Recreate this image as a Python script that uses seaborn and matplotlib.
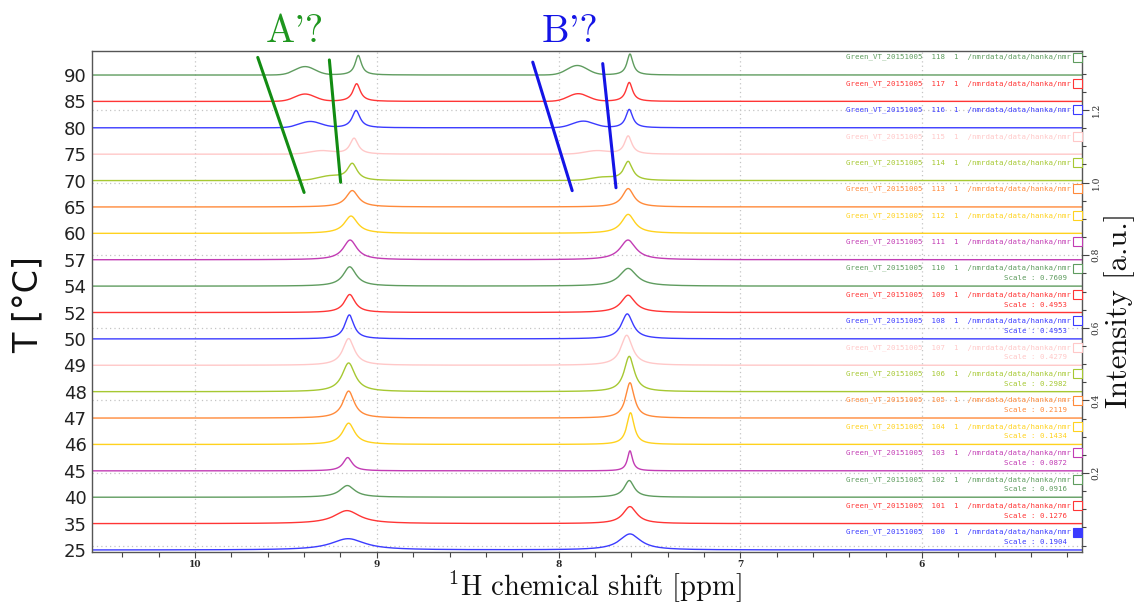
import numpy as np
import pandas as pd
import matplotlib
matplotlib.use("Agg")
import matplotlib.pyplot as plt
import matplotlib.transforms as mtransforms
from matplotlib.patches import Rectangle
from matplotlib.ticker import MultipleLocator, FixedLocator
import seaborn as sns

# ---- spectra metadata (top trace first) ----
temps = [90, 85, 80, 75, 70, 65, 60, 57, 54, 52, 50, 49, 48, 47, 46, 45, 40, 35, 25]
expnos = [118, 117, 116, 115, 114, 113, 112, 111, 110, 109, 108, 107, 106, 105,
          104, 103, 102, 101, 100]
scales = [None, None, None, None, None, None, None, None,
          "0.7609", "0.4953", "0.4953", "0.4279", "0.2982", "0.2119", "0.1434",
          "0.0872", "0.0916", "0.1276", "0.1904"]

# signal A (~9.15 ppm): position, height [a.u.], FWHM [ppm]
peak_a_ppm = [9.102, 9.111, 9.114, 9.125, 9.135, 9.135, 9.142, 9.147, 9.149, 9.149,
              9.151, 9.155, 9.155, 9.155, 9.155, 9.160, 9.162, 9.164, 9.158]
peak_a_height = [0.0540, 0.0488, 0.0479, 0.0441, 0.0460, 0.0452, 0.0477, 0.0543, 0.0532,
                 0.0496, 0.0661, 0.0736, 0.0791, 0.0744, 0.0587, 0.0366, 0.0322, 0.0358,
                 0.0311]
peak_a_fwhm = [0.042, 0.049, 0.053, 0.055, 0.066, 0.082, 0.088, 0.091, 0.086, 0.071,
               0.060, 0.077, 0.086, 0.075, 0.080, 0.060, 0.099, 0.170, 0.225]

# signal B (~7.61 ppm)
peak_b_ppm = [7.607, 7.611, 7.611, 7.617, 7.617, 7.617, 7.617, 7.618, 7.617, 7.617,
              7.622, 7.625, 7.611, 7.607, 7.604, 7.607, 7.611, 7.607, 7.607]
peak_b_height = [0.0579, 0.0523, 0.0507, 0.0504, 0.0523, 0.0507, 0.0523, 0.0543, 0.0488,
                 0.0477, 0.0689, 0.0827, 0.0973, 0.0973, 0.0873, 0.0551, 0.0460, 0.0468,
                 0.0441]
peak_b_fwhm = [0.040, 0.044, 0.046, 0.049, 0.060, 0.076, 0.088, 0.104, 0.114, 0.094,
               0.077, 0.077, 0.067, 0.058, 0.049, 0.034, 0.066, 0.091, 0.141]

# broad exchange humps A' and B' (five hottest spectra)
hump_a_ppm = [9.395, 9.395, 9.367, 9.303, 9.257]
hump_a_height = [0.023, 0.020, 0.017, 0.009, 0.011]
hump_b_ppm = [7.897, 7.892, 7.864, 7.790, 7.756]
hump_b_height = [0.026, 0.021, 0.018, 0.009, 0.008]
hump_fwhm = [0.13, 0.13, 0.14, 0.15, 0.15]

# right-hand intensity scale
intensity_ticks = [0.2, 0.4, 0.6, 0.8, 1.0, 1.2]
ppm_ticks = [10, 9, 8, 7, 6]

# colour cycle of the spectrometer software, indexed from expno 100 upward
cycle = ["#3b3bff", "#ff3535", "#5f9c5f", "#c23cb4", "#ffd21e", "#ff8a3a",
         "#a6c832", "#ffc8c8"]
palette = {e: cycle[(e - 100) % 8] for e in expnos}

# ---- layout ----
XLIM = (10.567, 5.12)
YLIM = (-0.0176, 1.3627)
PX = 0.002755                  # a.u. per pixel of the stacked plot
TOP_BASE = 1.2965
STEP = 0.0727
bases = [TOP_BASE - i * STEP for i in range(len(temps))]

sns.set_theme(style="white")
plt.rcParams["font.family"] = ["DejaVu Sans"]
plt.rcParams["mathtext.fontset"] = "cm"
plt.rcParams["axes.formatter.use_mathtext"] = True


def lorentz(x, x0, h, w):
    return h / (1.0 + ((x - x0) / (w / 2.0)) ** 2)


def gauss(x, x0, h, w):
    return h * np.exp(-4.0 * np.log(2.0) * ((x - x0) / w) ** 2)


ppm = np.linspace(XLIM[1] - 0.02, XLIM[0] + 0.02, 4000)
frames = []
for i, e in enumerate(expnos):
    y = lorentz(ppm, peak_a_ppm[i], peak_a_height[i], peak_a_fwhm[i])
    y = y + lorentz(ppm, peak_b_ppm[i], peak_b_height[i], peak_b_fwhm[i])
    if i < len(hump_a_ppm):
        y = y + gauss(ppm, hump_a_ppm[i], hump_a_height[i], hump_fwhm[i])
        y = y + gauss(ppm, hump_b_ppm[i], hump_b_height[i], hump_fwhm[i])
    frames.append(pd.DataFrame({"ppm": ppm, "intensity": bases[i] + y, "expno": e}))
df = pd.concat(frames, ignore_index=True)

fig = plt.figure(figsize=(11.36, 6.05), dpi=100)
ax = fig.add_axes([92 / 1136, 1 - 552 / 605, 990 / 1136, 501 / 605])

# dotted grid
ax.grid(axis="x", which="major", linestyle=(0, (1, 2.5)), color="#c4c4c4", lw=0.9)
for v in [0.0] + intensity_ticks:
    ax.axhline(v, linestyle=(0, (1, 2.5)), color="#c4c4c4", lw=0.9, zorder=0.5)

sns.lineplot(data=df, x="ppm", y="intensity", hue="expno", palette=palette,
             estimator=None, sort=False, legend=False, linewidth=1.0, ax=ax)

ax.set_xlim(*XLIM)
ax.set_ylim(*YLIM)
ax.set_xlabel("")
ax.set_ylabel("")

# left axis: temperatures at each trace baseline
ax.set_yticks(bases)
ax.set_yticklabels([str(t) for t in temps], fontsize=13, color="#222222")
ax.tick_params(axis="y", length=0, pad=4)

# bottom axis: ppm
ax.xaxis.set_major_locator(FixedLocator(ppm_ticks))
ax.xaxis.set_minor_locator(MultipleLocator(0.2))
ax.set_xticklabels([str(t) for t in ppm_ticks])
ax.tick_params(axis="x", which="major", direction="out", length=4.5, width=0.8,
               color="#444444", pad=1.5, labelsize=6.5)
ax.tick_params(axis="x", which="minor", direction="out", length=3.5, width=0.8,
               color="#444444")
ax.tick_params(axis="x", which="both", bottom=True)
for lbl in ax.get_xticklabels():
    lbl.set_family("DejaVu Serif")
    lbl.set_fontweight("bold")

for s in ax.spines.values():
    s.set_color("#555555")
    s.set_linewidth(1.0)

# right axis: intensity
ax2 = ax.twinx()
ax2.set_ylim(*YLIM)
ax2.set_yticks(intensity_ticks)
ax2.set_yticklabels([f"{v:.1f}" for v in intensity_ticks])
ax2.yaxis.set_minor_locator(MultipleLocator(0.05))
ax2.tick_params(axis="y", which="major", direction="out", length=5, width=0.8,
                color="#444444", pad=2, labelsize=6.5, labelrotation=90)
ax2.tick_params(axis="y", which="minor", direction="out", length=3, width=0.8,
                color="#444444")
for lbl in ax2.get_yticklabels():
    lbl.set_family("DejaVu Serif")
    lbl.set_va("center")
for s in ax2.spines.values():
    s.set_visible(False)

# per-trace annotations at the right edge
tr = mtransforms.blended_transform_factory(ax.transAxes, ax.transData)
box_w = 9 / 990
for i, e in enumerate(expnos):
    c = palette[e]
    ax.text(0.9892, bases[i] + 18 * PX,
            f"Green_VT_20151005  {e}  1  /nmrdata/data/hanka/nmr",
            transform=tr, ha="right", va="center", fontsize=5.3,
            family="DejaVu Sans Mono", color=c, zorder=5)
    if scales[i] is not None:
        ax.text(0.9852, bases[i] + 8 * PX, f"Scale : {scales[i]}",
                transform=tr, ha="right", va="center", fontsize=5.3,
                family="DejaVu Sans Mono", color=c, zorder=5)
    filled = e == 100
    ax.add_patch(Rectangle((1 - box_w, bases[i] + 18 * PX - 4.5 * PX), box_w, 9 * PX,
                           transform=tr, facecolor=c if filled else "white",
                           edgecolor=c, lw=0.8, clip_on=False, zorder=6))

# tracking lines for the exchanging species A' and B'
track_green = "#128c12"
track_blue = "#1414e6"
ax.plot([9.655, 9.400], [1.345, 0.973], color=track_green, lw=2.2, zorder=7)
ax.plot([9.261, 9.199], [1.338, 1.001], color=track_green, lw=2.2, zorder=7)
ax.plot([8.142, 7.925], [1.332, 0.978], color=track_blue, lw=2.2, zorder=7)
ax.plot([7.757, 7.684], [1.328, 0.986], color=track_blue, lw=2.2, zorder=7)

tx = mtransforms.blended_transform_factory(ax.transData, ax.transAxes)
ax.text(9.45, 1.0186, "A'?", transform=tx, ha="center", va="baseline",
        family="cmr10", fontsize=28, color="#1e961e")
ax.text(7.937, 1.0186, "B'?", transform=tx, ha="center", va="baseline",
        family="cmr10", fontsize=28, color="#1414e6")

# axis titles
fig.text(28 / 1136, 1 - 305 / 605, "T [°C]", rotation=90, ha="center", va="center",
         fontsize=24, color="#111111")
fig.text(594 / 1136, 1 - 587 / 605, r"$^{1}$H chemical shift [ppm]", ha="center",
         va="center", family="cmr10", fontsize=20.5, color="#111111")
fig.text(1120 / 1136, 1 - 310 / 605, "Intensity [a.u.]", rotation=90, ha="center",
         va="center", family="cmr10", fontsize=22, color="#111111")

fig.savefig("out.png", dpi=100)
